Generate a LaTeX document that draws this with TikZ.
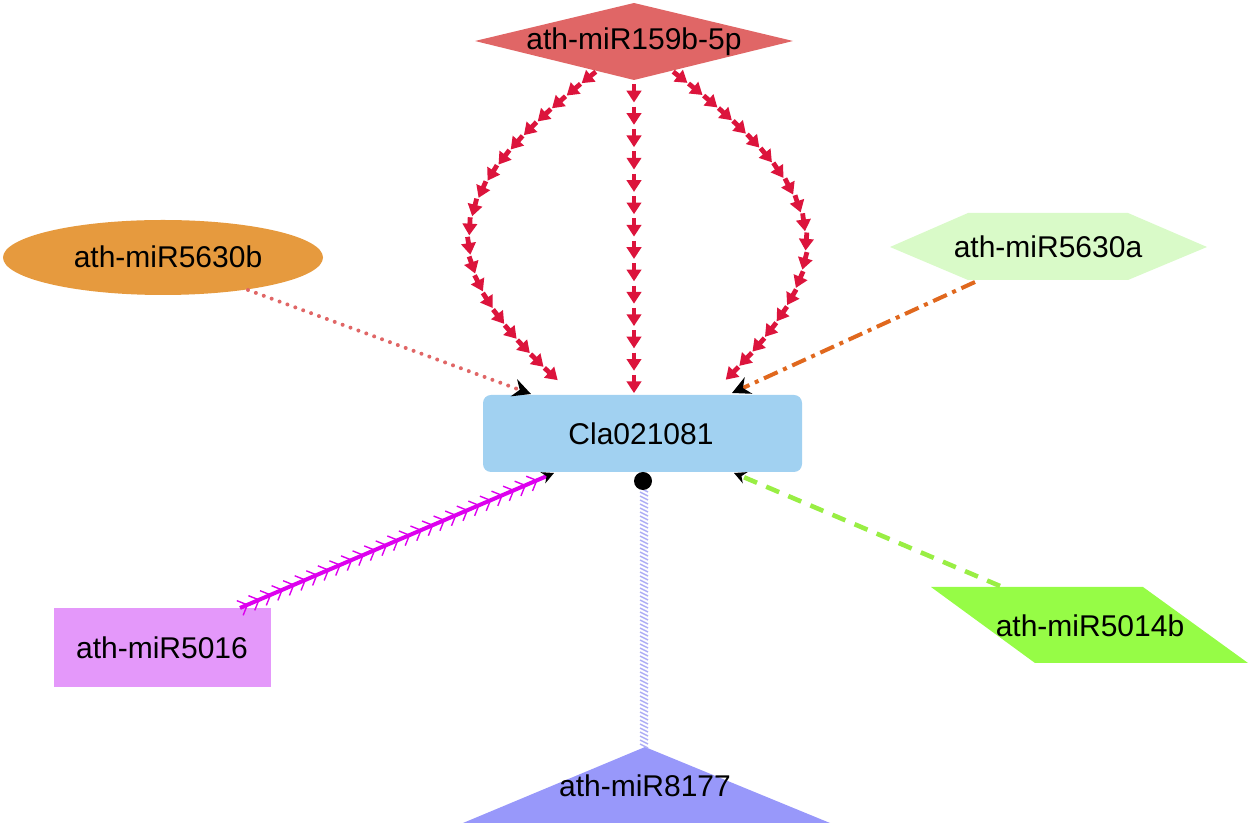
\documentclass[tikz,border=0pt]{standalone}
\usepackage{fontspec}
\setmainfont{Liberation Sans}
\usetikzlibrary{arrows.meta,shapes.geometric,decorations.markings}
\definecolor{cDiam}{HTML}{E06666}
\definecolor{cEll}{HTML}{E69A3E}
\definecolor{cHex}{HTML}{D9FAC8}
\definecolor{cRect}{HTML}{A1D1F1}
\definecolor{cBox}{HTML}{E498FA}
\definecolor{cPar}{HTML}{96FC46}
\definecolor{cTri}{HTML}{9898FA}
\definecolor{cCrim}{HTML}{DC143C}
\definecolor{cDot}{HTML}{E06666}
\definecolor{cOrange}{HTML}{E0681E}
\definecolor{cMag}{HTML}{DD00EE}
\definecolor{cGreen}{HTML}{99EE44}
\definecolor{cLav}{HTML}{ADADF5}
\tikzset{
  lbl/.style={font=\fontsize{15}{18}\selectfont, text=black, inner sep=0pt},
  redarrows/.style={decoration={markings,
      mark=between positions {1/#1} and 0.995 step {1/#1} with {\redmark},
      mark=at position 1 with {\redmark}},
    postaction={decorate}},
  blacktip/.style={-{Stealth[color=black,length=9pt,width=9pt,inset=3pt]}},
  feathers/.style={decoration={markings,
      mark=between positions 4pt and 0.97 step 6.3pt with {\draw[-,cMag,line width=0.7pt] (-4pt,4pt) -- (0,0) -- (-4pt,-4pt);}},
    postaction={decorate}},
  hatch/.style={decoration={markings,
      mark=between positions 0 and 1 step 2pt with {\draw[-,cLav,line width=0.7pt] (-1pt,-2pt) -- (1pt,2pt);}},
    postaction={decorate}}
}
\newcommand{\redmark}{\draw[-,cCrim,line width=2.4pt] (-9pt,0) -- (-5pt,0);
  \fill[cCrim] (0,0) -- (-5.8pt,3.8pt) -- (-5.8pt,-3.8pt) -- cycle;}
\begin{document}
\begin{tikzpicture}[x=0.5pt,y=-0.5pt]
\useasboundingbox (0,0) rectangle (1255,833);
% shapes
\fill[cDiam] (475,41) -- (634,3) -- (793,41) -- (634,80) -- cycle;
\node[lbl] (d) at (634,42) {ath-miR159b-5p};
\node[ellipse, fill=cEll, minimum width=160pt, minimum height=37.5pt, inner sep=0pt] (e) at (163,257.5) {};
\node[lbl] (etext) at (168,257) {ath-miR5630b};
\fill[cHex] (890,247) -- (968,213) -- (1128,213) -- (1207,247) -- (1128,280) -- (968,280) -- cycle;
\node[lbl] (h) at (1048,247) {ath-miR5630a};
\node[rectangle, rounded corners=4pt, fill=cRect, minimum width=159.5pt, minimum height=38.5pt, inner sep=0pt] (c) at (642.5,433.5) {};
\node[lbl] (ctext) at (641,434) {Cla021081};
\node[rectangle, fill=cBox, minimum width=108.5pt, minimum height=39.5pt, inner sep=0pt] (b) at (162.5,647.5) {};
\node[lbl] (btext) at (162,648) {ath-miR5016};
\fill[cPar] (931,587) -- (1143,587) -- (1248,663) -- (1035,663) -- cycle;
\node[lbl] (p) at (1090,626) {ath-miR5014b};
\fill[cTri] (645,747) -- (830,823) -- (463,823) -- cycle;
\node[lbl] (t) at (645,786) {ath-miR8177};
% connector ends
\coordinate (dL) at (597,71);
\coordinate (dM) at (634,80);
\coordinate (dR) at (672,71);
\coordinate (cL) at (572,393);
\coordinate (cM) at (634,393);
\coordinate (cR) at (712,393);
\coordinate (eOut) at (248,290);
\coordinate (cE) at (531,394);
\coordinate (hOut) at (975,282);
\coordinate (cH) at (732,393);
\coordinate (bOut) at (240,608);
\coordinate (cB) at (554,473);
\coordinate (pOut) at (1000,586);
\coordinate (cP) at (734,473);
\coordinate (tOut) at (644,746);
\coordinate (cT) at (644,489);
\coordinate (circ) at (643,481);
% red arrows
\path[redarrows=21] (dL) .. controls (432,200) and (430,268) .. (cL);
\path[redarrows=14] (dM) -- (cM);
\path[redarrows=21] (dR) .. controls (842,200) and (844,268) .. (cR);
% other connectors
\draw[cDot, line width=2pt, line cap=round, dash pattern=on 0pt off 4.2pt, blacktip] (eOut) -- (cE);
\draw[cOrange, line width=2pt, dash pattern=on 7.5pt off 3pt on 2pt off 3pt, blacktip] (hOut) -- (cH);
\draw[cMag, line width=2pt, feathers, -{Stealth[color=black,length=6pt,width=6pt]}] (bOut) -- (cB);
\draw[cGreen, line width=2.3pt, dash pattern=on 7pt off 5pt, -{Stealth[color=black,length=6pt,width=6pt]}] (pOut) -- (cP);
\path[hatch] (tOut) -- (cT);
\fill[black] (circ) circle (4.5pt);
\end{tikzpicture}
\end{document}
